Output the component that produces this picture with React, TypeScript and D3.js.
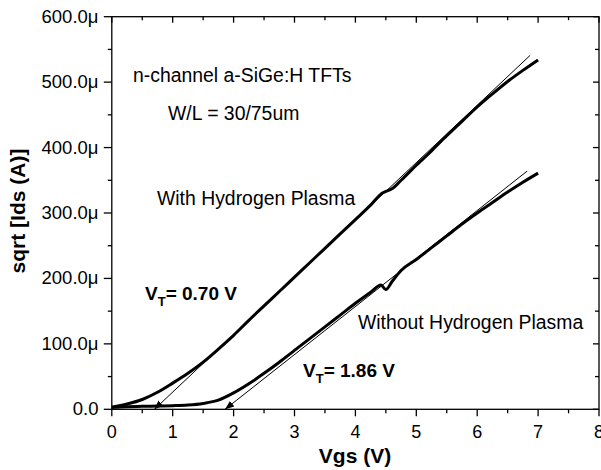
import React from "react";
import * as d3 from "d3";

const W = 601;
const H = 470;

// Vgs (V) and sqrt(Ids) in µA^(1/2) units (displayed as µ)
const vgsWith = [0, 0.25, 0.5, 0.75, 1.0, 1.25, 1.5, 1.75, 2.0, 2.25, 2.5, 2.75, 3.0, 3.25, 3.5, 3.75, 4.0, 4.25, 4.45, 4.5, 4.6, 4.75, 5.0, 5.25, 5.5, 5.75, 6.0, 6.25, 6.5, 6.75, 7.0];
const sqrtWith = [3, 8, 15, 26, 40, 55, 72, 92, 113, 136, 158, 180, 202, 224, 246, 268, 290, 312, 331, 333, 337, 350, 373, 395, 418, 440, 462, 482, 501, 518, 534];

const vgsWithout = [0, 0.25, 0.5, 0.75, 1.0, 1.25, 1.5, 1.75, 2.0, 2.25, 2.5, 2.75, 3.0, 3.25, 3.5, 3.75, 4.0, 4.25, 4.42, 4.5, 4.6, 4.75, 5.0, 5.25, 5.5, 5.75, 6.0, 6.25, 6.5, 6.75, 7.0];
const sqrtWithout = [3, 4, 4.5, 5, 5.5, 6.5, 9, 14, 25, 39, 55, 72, 90, 108, 126, 144, 162, 179, 190, 183, 195, 212, 229, 247, 265, 283, 300, 316, 332, 347, 361];

// tangent (threshold extraction) lines: [x0, y0, x1, y1]
const fitWith = [6.87, 541, 0.7, 0];
const fitWithout = [6.82, 364, 1.86, 0];

const xTicks = [0, 1, 2, 3, 4, 5, 6, 7, 8];
const yTicks = [0, 100, 200, 300, 400, 500, 600];

const FONT = "'Liberation Sans', Arial, Helvetica, sans-serif";

export default function App() {
  const left = 111.8;
  const right = 599;
  const top = 16.7;
  const bottom = 409.3;

  const x = d3.scaleLinear().domain([0, 8]).range([left, right]);
  const y = d3.scaleLinear().domain([0, 600]).range([bottom, top]);

  const line = d3
    .line<[number, number]>()
    .x((d) => x(d[0]))
    .y((d) => y(d[1]))
    .curve(d3.curveMonotoneX);

  const dWith = line(vgsWith.map((v, i) => [v, sqrtWith[i]] as [number, number])) || "";
  const dWithout = line(vgsWithout.map((v, i) => [v, sqrtWithout[i]] as [number, number])) || "";

  const xMinor = d3.range(0.5, 8, 1);
  const yMinor = d3.range(50, 600, 100);

  const fitLine = (f: number[]) => (
    <line
      x1={x(f[0])}
      y1={y(f[1])}
      x2={x(f[2])}
      y2={y(f[3])}
      stroke="#000"
      strokeWidth={1}
      markerEnd="url(#arrow)"
    />
  );

  return (
    <svg
      width={W}
      height={H}
      style={{ position: "absolute", left: 0, top: 0, background: "#fff" }}
      fontFamily={FONT}
    >
      <defs>
        <marker
          id="arrow"
          viewBox="0 0 10 10"
          refX="10"
          refY="5"
          markerWidth="9"
          markerHeight="9"
          markerUnits="userSpaceOnUse"
          orient="auto"
        >
          <path d="M0,1 L10,5 L0,9 Z" fill="#000" />
        </marker>
      </defs>
      <rect x={0} y={0} width={W} height={H} fill="#fff" />

      {/* frame */}
      <rect x={left} y={top} width={right - left} height={bottom - top} fill="none" stroke="#000" strokeWidth={1.3} />

      {/* bottom ticks (outward) */}
      {xTicks.map((t) => (
        <line key={"bx" + t} x1={x(t)} x2={x(t)} y1={bottom} y2={bottom + 7} stroke="#000" strokeWidth={1.3} />
      ))}
      {xMinor.map((t) => (
        <line key={"bxm" + t} x1={x(t)} x2={x(t)} y1={bottom} y2={bottom + 4} stroke="#000" strokeWidth={1.3} />
      ))}
      {/* top ticks (inward) */}
      {xTicks.map((t) => (
        <line key={"tx" + t} x1={x(t)} x2={x(t)} y1={top} y2={top + 6} stroke="#000" strokeWidth={1.3} />
      ))}
      {xMinor.map((t) => (
        <line key={"txm" + t} x1={x(t)} x2={x(t)} y1={top} y2={top + 3.5} stroke="#000" strokeWidth={1.3} />
      ))}
      {/* left ticks (outward) */}
      {yTicks.map((t) => (
        <line key={"ly" + t} x1={left - 8} x2={left} y1={y(t)} y2={y(t)} stroke="#000" strokeWidth={1.3} />
      ))}
      {yMinor.map((t) => (
        <line key={"lym" + t} x1={left - 4} x2={left} y1={y(t)} y2={y(t)} stroke="#000" strokeWidth={1.3} />
      ))}
      {/* right ticks (inward) */}
      {yTicks.map((t) => (
        <line key={"ry" + t} x1={right - 6} x2={right} y1={y(t)} y2={y(t)} stroke="#000" strokeWidth={1.3} />
      ))}
      {yMinor.map((t) => (
        <line key={"rym" + t} x1={right - 4} x2={right} y1={y(t)} y2={y(t)} stroke="#000" strokeWidth={1.3} />
      ))}

      {/* tick labels */}
      {xTicks.map((t) => (
        <text key={"xl" + t} x={x(t)} y={438} textAnchor="middle" fontSize={18}>
          {t}
        </text>
      ))}
      {yTicks.map((t) => (
        <text key={"yl" + t} x={98.5} y={y(t) + 6} textAnchor="end" fontSize={18.5}>
          {t === 0 ? "0.0" : `${t.toFixed(1)}μ`}
        </text>
      ))}

      {/* axis titles */}
      <text x={355} y={463} textAnchor="middle" fontSize={21} fontWeight="bold">
        Vgs (V)
      </text>
      <text
        transform={`translate(25,${211}) rotate(-90)`}
        textAnchor="middle"
        fontSize={21}
        fontWeight="bold"
      >
        sqrt [Ids (A)]
      </text>

      {/* tangent lines with arrows */}
      {fitLine(fitWith)}
      {fitLine(fitWithout)}

      {/* data curves */}
      <path d={dWith} fill="none" stroke="#000" strokeWidth={3} strokeLinejoin="round" />
      <path d={dWithout} fill="none" stroke="#000" strokeWidth={3} strokeLinejoin="round" />

      {/* annotations */}
      <text x={133} y={81.5} fontSize={19.4}>n-channel a-SiGe:H TFTs</text>
      <text x={168} y={119.5} fontSize={19.4}>W/L = 30/75um</text>
      <text x={157} y={205} fontSize={19.4}>With Hydrogen Plasma</text>
      <text x={358} y={329} fontSize={19.4}>Without Hydrogen Plasma</text>

      <text x={145} y={300} fontSize={19} fontWeight="bold">
        V<tspan fontSize={13} dy={6}>T</tspan>
        <tspan dy={-6}>= 0.70 V</tspan>
      </text>
      <text x={303} y={376.7} fontSize={19} fontWeight="bold">
        V<tspan fontSize={13} dy={6}>T</tspan>
        <tspan dy={-6}>= 1.86 V</tspan>
      </text>
    </svg>
  );
}
